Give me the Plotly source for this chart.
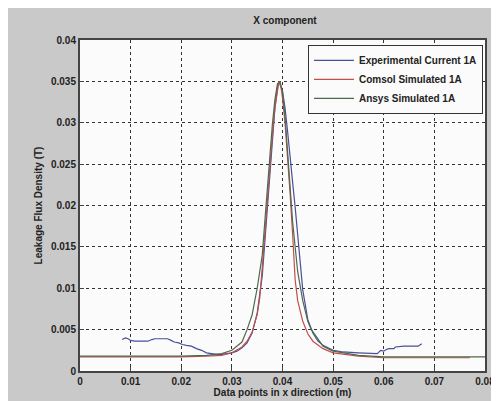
import plotly.graph_objects as go

# Experimental measurement (blue)
exp_x = [0.0083, 0.009, 0.0095, 0.0100, 0.0108, 0.012, 0.0134, 0.0142, 0.0148, 0.016, 0.0173, 0.0180,
         0.0186, 0.0195, 0.0202, 0.021, 0.022, 0.023, 0.024, 0.025, 0.026, 0.027, 0.028, 0.029,
         0.030, 0.031, 0.032, 0.033, 0.034, 0.035, 0.036, 0.0365, 0.037, 0.0375, 0.038, 0.0385,
         0.039, 0.0393, 0.040, 0.0405, 0.041, 0.0415, 0.042, 0.0425, 0.043, 0.0435, 0.044, 0.045,
         0.046, 0.047, 0.048, 0.050, 0.052, 0.055, 0.0587, 0.0594, 0.060, 0.0605, 0.061, 0.062,
         0.0623, 0.064, 0.0668, 0.0675]
exp_y = [0.0038, 0.0040, 0.0039, 0.0037, 0.0036, 0.0036, 0.0036, 0.0038, 0.0039, 0.0039, 0.0039, 0.0037,
         0.0035, 0.0034, 0.0032, 0.0031, 0.0030, 0.0027, 0.0025, 0.0022, 0.0021, 0.0020, 0.0020, 0.0021,
         0.0022, 0.0024, 0.0028, 0.0034, 0.0046, 0.0070, 0.0115, 0.0155, 0.0198, 0.0243, 0.0284, 0.0318,
         0.0342, 0.0350, 0.0338, 0.0318, 0.0290, 0.0255, 0.0228, 0.0198, 0.0162, 0.0128, 0.0098, 0.0062,
         0.0046, 0.0036, 0.0031, 0.0025, 0.0023, 0.0022, 0.0021, 0.0025, 0.0024, 0.0026, 0.0027, 0.0027,
         0.0029, 0.0030, 0.0030, 0.0033]

# Comsol simulation (red)
com_x = [0.0, 0.010, 0.020, 0.025, 0.028, 0.030, 0.032, 0.033, 0.034, 0.035, 0.0355, 0.036, 0.0365,
         0.037, 0.0375, 0.038, 0.0385, 0.039, 0.0393, 0.0397, 0.040, 0.0405, 0.041, 0.0415, 0.042,
         0.0425, 0.043, 0.044, 0.045, 0.046, 0.048, 0.050, 0.055, 0.060, 0.070, 0.077]
com_y = [0.0017, 0.0017, 0.0017, 0.0018, 0.0019, 0.0022, 0.0029, 0.0036, 0.0047, 0.0068, 0.0088, 0.0125, 0.0165,
         0.0205, 0.0250, 0.0285, 0.0318, 0.0342, 0.0350, 0.0343, 0.0330, 0.0300, 0.0260, 0.0215, 0.0165,
         0.0110, 0.0085, 0.0060, 0.0045, 0.0036, 0.0027, 0.0022, 0.0018, 0.0016, 0.0016, 0.0016]

# Ansys simulation (green, wider at the base)
ans_x = [0.0, 0.010, 0.020, 0.025, 0.028, 0.030, 0.032, 0.033, 0.034, 0.035, 0.036, 0.0365, 0.037,
         0.0375, 0.038, 0.0385, 0.039, 0.0395, 0.040, 0.0405, 0.041, 0.0415, 0.042, 0.043, 0.044,
         0.045, 0.0457, 0.048, 0.050, 0.055, 0.060, 0.070, 0.080]
ans_y = [0.0018, 0.0018, 0.0018, 0.0019, 0.0021, 0.0025, 0.0035, 0.0050, 0.0068, 0.0100, 0.0140, 0.0180, 0.0220,
         0.0262, 0.0298, 0.0328, 0.0347, 0.0350, 0.0338, 0.0308, 0.0268, 0.0222, 0.0180, 0.0120, 0.0085,
         0.0060, 0.0050, 0.0030, 0.0024, 0.0019, 0.0017, 0.0017, 0.0017]

x_ticks = [0, 0.01, 0.02, 0.03, 0.04, 0.05, 0.06, 0.07, 0.08]
x_labels = ["0", "0.01", "0.02", "0.03", "0.04", "0.05", "0.06", "0.07", "0.08"]
y_ticks = [0, 0.005, 0.01, 0.015, 0.02, 0.025, 0.03, 0.035, 0.04]
y_labels = ["0", "0.005", "0.01", "0.015", "0.02", "0.025", "0.03", "0.035", "0.04"]

fnt = "Liberation Sans, Arial"

fig = go.Figure()
fig.add_trace(go.Scatter(x=exp_x, y=exp_y, mode="lines", name="<b>Experimental Current 1A</b>",
                         line=dict(color="#4a4f9a", width=1.2)))
fig.add_trace(go.Scatter(x=com_x, y=com_y, mode="lines", name="<b>Comsol Simulated 1A</b>",
                         line=dict(color="#c0504d", width=1.2)))
fig.add_trace(go.Scatter(x=ans_x, y=ans_y, mode="lines", name="<b>Ansys Simulated 1A</b>",
                         line=dict(color="#4e6a4e", width=1.2)))

fig.update_layout(
    width=499, height=401,
    margin=dict(l=72, r=17, t=32, b=35),
    paper_bgcolor="#c9c9c9",
    plot_bgcolor="#fbfbfb",
    title=dict(text="<b>X component</b>", x=0.555, xanchor="center", y=0.968, yanchor="middle",
               font=dict(family=fnt, size=10, color="#222")),
    showlegend=True,
    legend=dict(x=0.995, y=0.985, xanchor="right", yanchor="top",
                bgcolor="#fbfbfb", bordercolor="#333", borderwidth=1,
                font=dict(family=fnt, size=10, color="#222"),
                itemwidth=40, tracegroupgap=0),
    font=dict(family=fnt, size=10, color="#222"),
)
fig.update_xaxes(range=[0, 0.08], tickvals=x_ticks, ticktext=["<b>%s</b>" % t for t in x_labels],
                 showgrid=True, gridcolor="#333", griddash="dot", gridwidth=1,
                 showline=True, linecolor="#444", linewidth=2, mirror=True,
                 ticks="inside", ticklen=4, tickcolor="#444", zeroline=False,
                 tickfont=dict(family=fnt, size=10, color="#222"),
                 title=dict(text="<b>Data points in x direction (m)</b>", standoff=3,
                            font=dict(family=fnt, size=10, color="#222")))
fig.update_yaxes(range=[0, 0.04], tickvals=y_ticks, ticktext=["<b>%s</b>" % t for t in y_labels],
                 showgrid=True, gridcolor="#333", griddash="dot", gridwidth=1,
                 showline=True, linecolor="#444", linewidth=2, mirror=True,
                 ticks="inside", ticklen=4, tickcolor="#444", zeroline=False,
                 tickfont=dict(family=fnt, size=10, color="#222"),
                 title=dict(text="<b>Leakage Flux Density (T)</b>", standoff=6,
                            font=dict(family=fnt, size=10, color="#222")))

fig.write_html("out.html")
